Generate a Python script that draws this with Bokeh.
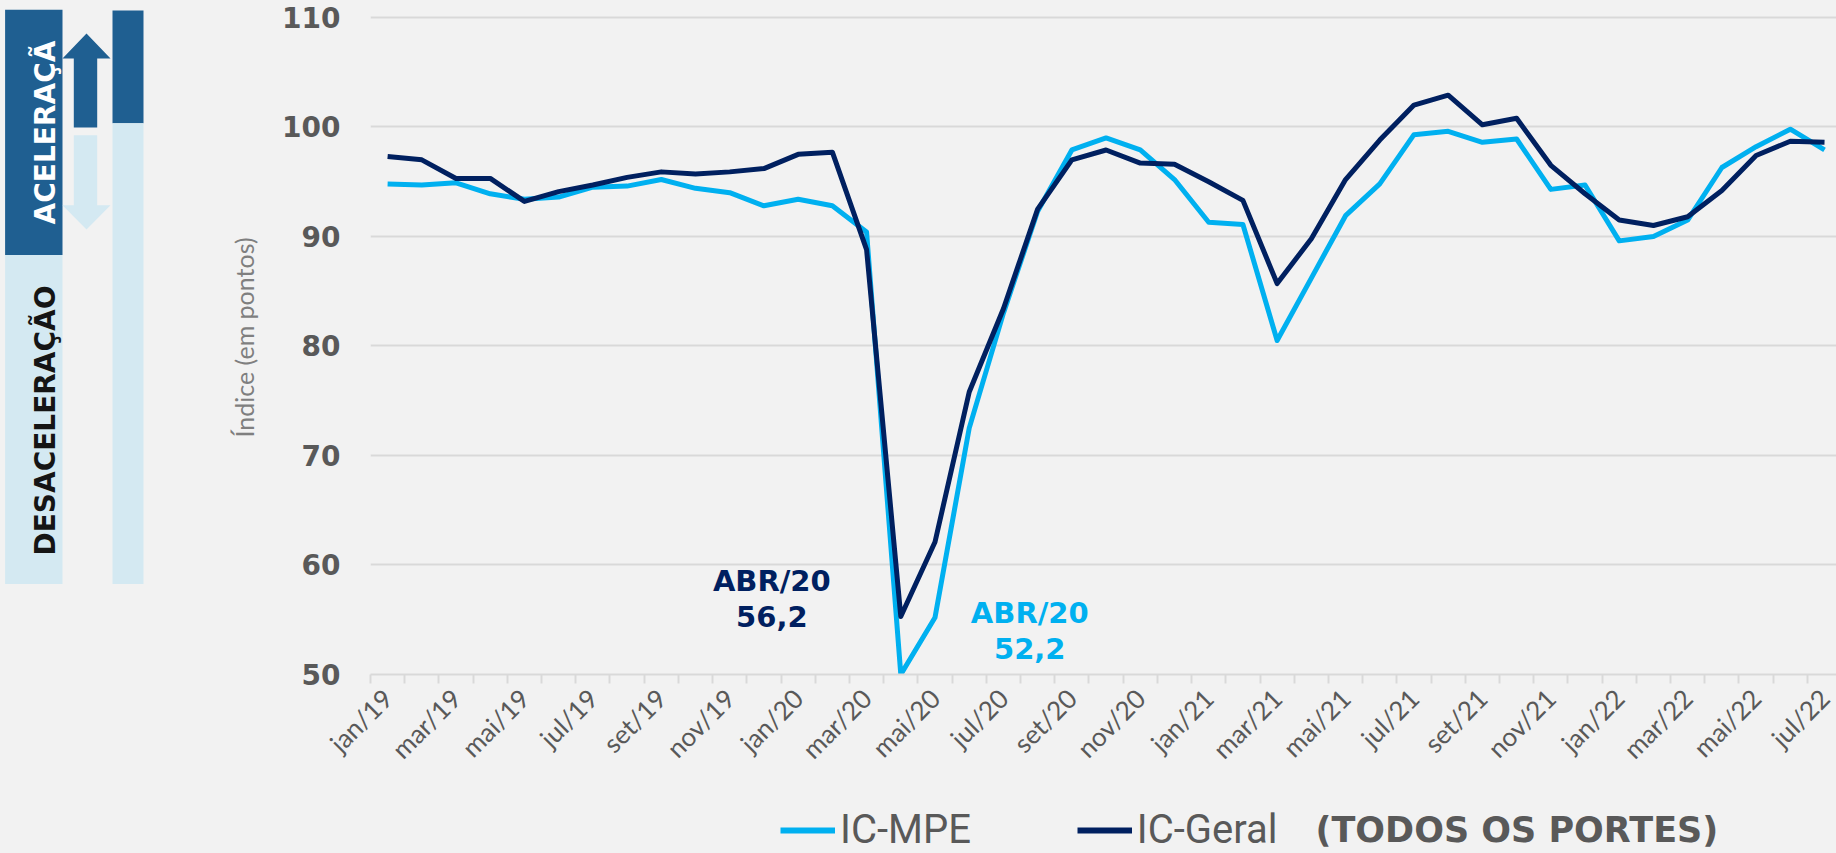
import math
from bokeh.plotting import figure
from bokeh.models import (Range1d, FixedTicker, Legend, LegendItem, Label,
                          ColumnDataSource)
from bokeh.layouts import row, column
from bokeh.embed import file_html
from bokeh.resources import INLINE
from bokeh.core.properties import value

# ---------------- data ----------------
categorias = [
    "jan/19", "fev/19", "mar/19", "abr/19", "mai/19", "jun/19", "jul/19", "ago/19",
    "set/19", "out/19", "nov/19", "dez/19",
    "jan/20", "fev/20", "mar/20", "abr/20", "mai/20", "jun/20", "jul/20", "ago/20",
    "set/20", "out/20", "nov/20", "dez/20",
    "jan/21", "fev/21", "mar/21", "abr/21", "mai/21", "jun/21", "jul/21", "ago/21",
    "set/21", "out/21", "nov/21", "dez/21",
    "jan/22", "fev/22", "mar/22", "abr/22", "mai/22", "jun/22", "jul/22",
]
ic_mpe = [
    94.8, 94.7, 94.9, 93.9, 93.4, 93.6, 94.5, 94.6, 95.2, 94.4, 94.0, 92.8,
    93.4, 92.8, 90.4, 50.0, 55.2, 72.5, 83.0, 92.3, 97.9, 99.0, 97.9, 95.2,
    91.3, 91.1, 80.5, 86.2, 91.9, 94.8, 99.3, 99.6, 98.6, 98.9, 94.3, 94.7,
    89.6, 90.0, 91.5, 96.3, 98.2, 99.8, 97.9,
]
ic_geral = [
    97.3, 97.0, 95.3, 95.3, 93.2, 94.1, 94.7, 95.4, 95.9, 95.7, 95.9, 96.2,
    97.5, 97.7, 88.8, 55.3, 62.1, 75.8, 83.4, 92.5, 97.0, 97.9, 96.7, 96.6,
    95.0, 93.3, 85.7, 89.8, 95.2, 98.8, 102.0, 102.9, 100.2, 100.8, 96.5, 93.9,
    91.5, 91.0, 91.8, 94.2, 97.4, 98.7, 98.6,
]
y_ticks = [50, 60, 70, 80, 90, 100, 110]
series_nomes = ["IC-MPE", "IC-Geral"]
legenda_sufixo = "(TODOS OS PORTES)"
destaque_mes = "abr/20"
destaque_textos = [("ABR/20", "56,2"), ("ABR/20", "52,2")]

# ---------------- style ----------------
BG = "#f2f2f2"
DARK_BOX = "#1f5f91"
LIGHT_BOX = "#d4e9f2"
C_MPE = "#00b0f0"
C_GERAL = "#002060"
GRID = "#d9d9d9"
TXT = "#595959"

PAGE_W = 1836
PAGE_H = 853
DECO_W = 178
H_LEG = 60                 # legend strip height
H_MAIN = PAGE_H - H_LEG    # chart height
FRAME_BOTTOM = 674         # page y of the x axis line
BOT_B = H_MAIN - FRAME_BOTTOM


def fy(Y):
    return PAGE_H - Y


def plain(fig):
    fig.axis.visible = False
    fig.grid.visible = False
    fig.outline_line_color = None
    fig.background_fill_color = BG
    fig.border_fill_color = BG


# ---------------- left decoration ----------------
d = figure(width=DECO_W, height=H_MAIN, x_range=Range1d(0, DECO_W),
           y_range=Range1d(fy(FRAME_BOTTOM), fy(0)),
           output_backend="svg", toolbar_location=None,
           min_border_left=0, min_border_right=0, min_border_top=0,
           min_border_bottom=BOT_B)
plain(d)

d.quad(left=[4.6, 4.6, 112, 112], right=[62, 62, 143, 143],
       top=[fy(9.2), fy(254.5), fy(10), fy(122.8)],
       bottom=[fy(254.5), fy(583.6), fy(122.8), fy(583.6)],
       fill_color=[DARK_BOX, LIGHT_BOX, DARK_BOX, LIGHT_BOX], line_color=None)
up_x = [62, 86, 110, 96.7, 96.7, 73.3, 73.3]
up_y = [fy(v) for v in [58, 33, 58, 58, 127, 127, 58]]
dn_x = [73.3, 96.7, 96.7, 110, 86, 62, 73.3]
dn_y = [fy(v) for v in [134.7, 134.7, 204.7, 204.7, 229, 204.7, 204.7]]
d.patches(xs=[up_x, dn_x], ys=[up_y, dn_y], fill_color=[DARK_BOX, LIGHT_BOX],
          line_color=None)
d.text(x=[45], y=[fy(132)], text=["ACELERAÇÃ"], angle=math.pi / 2,
       text_align="center", text_baseline="alphabetic",
       text_font=value("DejaVu Sans"), text_font_style="bold",
       text_font_size="28px", text_color="#ffffff")
d.text(x=[45], y=[fy(420)], text=["DESACELERAÇÃO"], angle=math.pi / 2,
       text_align="center", text_baseline="alphabetic",
       text_font=value("DejaVu Sans"), text_font_style="bold",
       text_font_size="28px", text_color="#151515")

# ---------------- main chart ----------------
p = figure(width=PAGE_W - DECO_W, height=H_MAIN, x_range=Range1d(-0.5, 42.35),
           y_range=Range1d(50, 111.55), output_backend="svg",
           toolbar_location=None, min_border_left=370 - DECO_W,
           min_border_right=0, min_border_top=0, min_border_bottom=BOT_B)
p.background_fill_color = BG
p.border_fill_color = BG
p.outline_line_color = None

x = list(range(len(categorias)))
src = ColumnDataSource(dict(x=x, mpe=ic_mpe, geral=ic_geral, mes=categorias))
r1 = p.line("x", "mpe", source=src, line_color=C_MPE, line_width=5,
            line_join="round")
r2 = p.line("x", "geral", source=src, line_color=C_GERAL, line_width=5,
            line_join="round")

# x axis
label_idx = list(range(0, len(categorias), 2))
p.xaxis.ticker = FixedTicker(ticks=label_idx,
                             minor_ticks=[i - 0.5 for i in range(len(categorias) + 1)])
p.xaxis.major_label_overrides = {i: categorias[i] for i in label_idx}
p.xaxis.major_label_orientation = math.pi / 4
p.xaxis.major_tick_line_color = None
p.xaxis.major_tick_out = 9
p.xaxis.major_tick_in = 0
p.xaxis.minor_tick_line_color = GRID
p.xaxis.minor_tick_line_width = 2
p.xaxis.minor_tick_out = 9
p.xaxis.minor_tick_in = 0
p.xaxis.axis_line_color = GRID
p.xaxis.axis_line_width = 2
p.xaxis.major_label_text_font = "Lato"
p.xaxis.major_label_text_font_size = "26px"
p.xaxis.major_label_text_color = TXT
p.xaxis.major_label_standoff = 10

# y axis
p.yaxis.ticker = FixedTicker(ticks=y_ticks)
p.yaxis.axis_line_color = None
p.yaxis.major_tick_line_color = None
p.yaxis.major_tick_out = 0
p.yaxis.minor_tick_line_color = None
p.yaxis.major_label_text_font = "DejaVu Sans"
p.yaxis.major_label_text_font_style = "bold"
p.yaxis.major_label_text_font_size = "28px"
p.yaxis.major_label_text_color = TXT
p.yaxis.major_label_standoff = 30
p.yaxis.axis_label = "Índice (em pontos)"
p.yaxis.axis_label_text_font = "Lato"
p.yaxis.axis_label_text_font_style = "normal"
p.yaxis.axis_label_text_font_size = "25px"
p.yaxis.axis_label_text_color = "#7f7f7f"
p.yaxis.axis_label_standoff = 20

p.ygrid.ticker = FixedTicker(ticks=y_ticks)
p.ygrid.grid_line_color = GRID
p.ygrid.grid_line_width = 2
p.xgrid.visible = False

# highlight labels around abr/20
i_abr = categorias.index(destaque_mes)
for (t1, t2), dx, col in [(destaque_textos[0], -3.77, C_GERAL),
                          (destaque_textos[1], 3.77, C_MPE)]:
    base_y = 58.5 if dx < 0 else 55.6
    for txt, yy in [(t1, base_y), (t2, base_y - 3.2)]:
        p.add_layout(Label(x=i_abr + dx, y=yy, text=txt, text_align="center",
                           text_baseline="middle", text_font="DejaVu Sans",
                           text_font_style="bold", text_font_size="29px",
                           text_color=col))

# ---------------- legend strip ----------------
lg = figure(width=PAGE_W, height=H_LEG, x_range=Range1d(0, 1),
            y_range=Range1d(0, 1), output_backend="svg",
            toolbar_location=None, min_border=0)
plain(lg)
k1 = lg.line("x", "mpe", source=src, line_color=C_MPE, line_width=6,
             visible=False)
k2 = lg.line("x", "geral", source=src, line_color=C_GERAL, line_width=6,
             visible=False)
legend = Legend(items=[LegendItem(label=series_nomes[0], renderers=[k1]),
                       LegendItem(label=series_nomes[1], renderers=[k2])],
                orientation="horizontal", location=(780, 0),
                glyph_width=55, label_standoff=5, spacing=106, padding=0,
                margin=0, border_line_color=None, background_fill_alpha=0,
                label_text_font="Roboto", label_text_font_size="40px",
                label_text_color=TXT)
lg.add_layout(legend)
lg.add_layout(Label(x=1315, y=24, x_units="screen", y_units="screen",
                    text=legenda_sufixo, text_align="left",
                    text_baseline="middle", text_font="DejaVu Sans",
                    text_font_style="bold", text_font_size="35px",
                    text_color=TXT))

layout = column(row(d, p, styles={"background-color": BG}), lg,
                styles={"background-color": BG})
open("out.html", "w").write(file_html(layout, INLINE))
